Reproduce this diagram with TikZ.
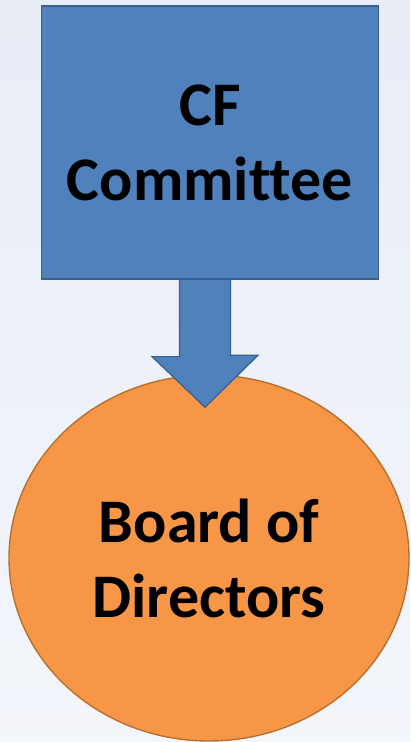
\documentclass[tikz,border=0pt]{standalone}
\usepackage{fontspec}
\setmainfont[Ligatures=NoCommon]{Carlito}
\usetikzlibrary{shapes.geometric,calc}

\definecolor{boxblue}{HTML}{4F81BD}
\definecolor{boxblueline}{HTML}{3A5F8C}
\definecolor{ovalorange}{HTML}{F79646}
\definecolor{ovalline}{HTML}{B8702F}
\definecolor{bgtop}{HTML}{E2E8F4}
\definecolor{bglight}{HTML}{F6F8FC}
\definecolor{bgbot}{HTML}{E0E7F3}

\pgfdeclareverticalshading{pagebg}{100bp}{color(0bp)=(bgbot); color(12bp)=(bglight); color(100bp)=(bgtop)}

\tikzset{
  bigtext/.style={font=\bfseries\fontsize{62}{75}\selectfont, align=center, text=black},
  orgbox/.style={draw=boxblueline, line width=1.2pt, fill=boxblue, rectangle, minimum width=337pt, minimum height=273pt, bigtext},
  orgoval/.style={draw=ovalline, line width=1.4pt, fill=ovalorange, ellipse, minimum width=400pt, minimum height=366pt, bigtext},
  blockarrow/.style={draw=boxblueline, line width=1.2pt, fill=boxblue, line join=miter}
}

\begin{document}
\begin{tikzpicture}[x=1pt,y=-1pt]
				\shade[shading=pagebg] (0,0) rectangle (410,742);
				\useasboundingbox (0,0) rectangle (410,742);
				\node[orgoval] (bod)at(209, 558) {Board of\\Directors};
				\node[orgbox] (cf)at(210, 142.5) {CF\\Committee};
				\coordinate (tip) at ($(bod.north)+(-4,33)$);
				\draw[blockarrow] ($(cf.south)+(-30.5,0.6)$) -- ++(0,76.4) -- ++(-27.5,0) -- (tip) -- ++(53,-52) -- ++(-27.5,0) -- ($(cf.south)+(20.5,0.6)$);
\end{tikzpicture}
\end{document}
